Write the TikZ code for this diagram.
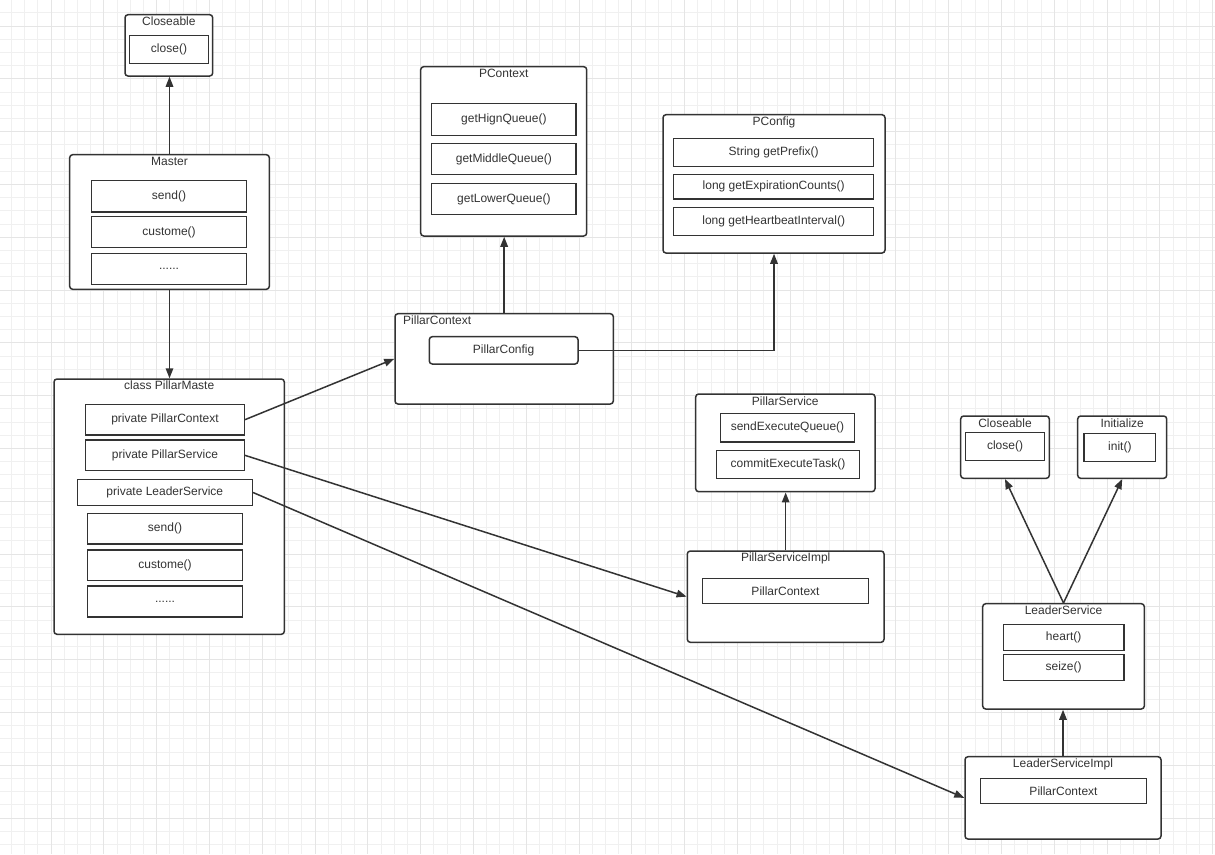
\documentclass[tikz,border=0pt]{standalone}
\usepackage{fontspec}
\setmainfont{Liberation Sans}
\usetikzlibrary{arrows.meta}
\definecolor{ink}{HTML}{333333}
\definecolor{gminor}{HTML}{F0F0F0}
\definecolor{gmajor}{HTML}{E5E5E5}
% \bx{style}{name}{x1}{y1}{x2}{y2}{text}
\newcommand{\bx}[7]{\node[#1, minimum width={(#5)-(#3)}, minimum height={(#6)-(#4)}] (#2) at ({((#3)+(#5))/2},{((#4)+(#6))/2}) {#7};}
\begin{document}
\begin{tikzpicture}[x=1pt,y=-1pt,
  font=\fontsize{12}{14}\selectfont, text=ink,
  outerbox/.style={draw=ink, line width=1.5pt, rounded corners=3pt, inner sep=0pt, fill=white},
  innerbox/.style={draw=ink, line width=1.5pt, inner sep=0pt, fill=white},
  roundbox/.style={draw=ink, line width=1.5pt, rounded corners=3pt, inner sep=0pt, fill=white},
  ttl/.style={inner sep=0pt, anchor=base},
  arr/.style={draw=ink, line width=1.5pt, -{Triangle[length=10pt,width=7.5pt]}},
  gridminor/.style={draw=gminor, line width=1pt},
  gridmajor/.style={draw=gmajor, line width=1pt}]
\useasboundingbox (0,0) rectangle (1215,854);
\fill[white] (0,0) rectangle (1215,854);
% grid
\foreach \k in {0,...,91} {
  \pgfmathsetmacro{\gx}{11.4+13.2*\k}
  \draw[gridminor] (\gx,0) -- (\gx,854);
}
\foreach \k in {0,...,64} {
  \pgfmathsetmacro{\gy}{12.8+13.2*\k}
  \draw[gridminor] (0,\gy) -- (1215,\gy);
}
\foreach \k in {0,...,22} {
  \pgfmathsetmacro{\gx}{51+52.8*\k}
  \draw[gridmajor] (\gx,0) -- (\gx,854);
}
\foreach \k in {0,...,16} {
  \pgfmathsetmacro{\gy}{26+52.8*\k}
  \draw[gridmajor] (0,\gy) -- (1215,\gy);
}

% Closeable (top)
\bx{outerbox}{cla}{125}{14.7}{212.7}{76}{}
\node[ttl] (clat) at (168.9,25.5) {Closeable};
\bx{innerbox}{claclose}{129.7}{35.7}{208.3}{63.3}{close()}

% Master
\bx{outerbox}{master}{69.7}{154.7}{269.3}{289.3}{}
\node[ttl] (mastert) at (169.5,165.5) {Master};
\bx{innerbox}{msend}{91.7}{180.7}{246.3}{212}{send()}
\bx{innerbox}{mcust}{91.7}{216.7}{246.3}{247.3}{custome()}
\bx{innerbox}{mdots}{91.7}{253.7}{246.3}{284.3}{......}

% class PillarMaste
\bx{outerbox}{pm}{54}{379}{284.3}{634.3}{}
\node[ttl] (pmt) at (169.2,389.8) {class PillarMaste};
\bx{innerbox}{ppc}{85.7}{404.3}{244.3}{435}{private PillarContext}
\bx{innerbox}{pps}{85.7}{440}{244.3}{470.7}{private PillarService}
\bx{innerbox}{pls}{77.3}{479.7}{252.3}{505.3}{private LeaderService}
\bx{innerbox}{pmsend}{87.7}{513.7}{242.3}{544}{send()}
\bx{innerbox}{pmcust}{87.7}{550}{242.3}{580.3}{custome()}
\bx{innerbox}{pmdots}{87.7}{586}{242.3}{617}{......}

% PContext
\bx{outerbox}{pcon}{420.7}{66.7}{586.7}{236}{}
\node[ttl] (pcont) at (503.7,77.3) {PContext};
\bx{innerbox}{qh}{431.7}{103.7}{576}{135.3}{getHignQueue()}
\bx{innerbox}{qm}{431.7}{143.7}{576}{174.7}{getMiddleQueue()}
\bx{innerbox}{ql}{431.7}{183.7}{576}{214.7}{getLowerQueue()}

% PConfig
\bx{outerbox}{pconfig}{663}{114.7}{885}{253}{}
\node[ttl] (pconfigt) at (774,125.5) {PConfig};
\bx{innerbox}{gp}{673.7}{138.7}{873.7}{166.3}{String getPrefix()}
\bx{innerbox}{ge}{673.7}{174.7}{873.7}{199}{long getExpirationCounts()}
\bx{innerbox}{gh}{673.7}{207.7}{873.7}{235.3}{long getHeartbeatInterval()}

% PillarContext
\bx{outerbox}{pctx}{395}{313.7}{613.3}{404}{}
\node[ttl, anchor=base west] (pctxt) at (403,324) {PillarContext};
\bx{roundbox}{pcfg}{429.3}{336.7}{578}{364}{PillarConfig}

% PillarService
\bx{outerbox}{ps}{695.7}{394}{875}{491.7}{}
\node[ttl] (pst) at (785.3,405) {PillarService};
\bx{innerbox}{seq}{720.7}{413.7}{854.3}{442}{sendExecuteQueue()}
\bx{innerbox}{cet}{716.7}{450.7}{859.3}{478.3}{commitExecuteTask()}

% PillarServiceImpl
\bx{outerbox}{psi}{687.3}{551}{884}{642.3}{}
\node[ttl] (psit) at (785.7,561.5) {PillarServiceImpl};
\bx{innerbox}{psictx}{702.3}{578.7}{868.7}{603.3}{PillarContext}

% Closeable (right)
\bx{outerbox}{clb}{960.7}{416}{1049.3}{478.3}{}
\node[ttl] (clbt) at (1005,427.3) {Closeable};
\bx{innerbox}{clbclose}{965.7}{432.3}{1044.3}{460.7}{close()}

% Initialize
\bx{outerbox}{ini}{1077.7}{416}{1166.7}{478.3}{}
\node[ttl] (init) at (1122.2,427.3) {Initialize};
\bx{innerbox}{inii}{1084}{433.3}{1155.7}{461.7}{init()}

% LeaderService
\bx{outerbox}{ls}{982.7}{603.7}{1144.3}{709}{}
\node[ttl] (lst) at (1063.5,614.3) {LeaderService};
\bx{innerbox}{heart}{1003.3}{624.3}{1124}{650.3}{heart()}
\bx{innerbox}{seize}{1003.3}{654.7}{1124}{680.3}{seize()}

% LeaderServiceImpl
\bx{outerbox}{lsi}{965}{756.7}{1161}{839}{}
\node[ttl] (lsit) at (1063,767.3) {LeaderServiceImpl};
\bx{innerbox}{lsictx}{980.3}{778.7}{1146.7}{803.3}{PillarContext}

% connectors
\draw[arr] (master.north) -- (master.north |- cla.south);
\draw[arr] (master.south) -- (master.south |- pm.north);
\draw[arr] (ppc.east) -- (pctx.west);
\draw[arr] (pctx.north) -- (pctx.north |- pcon.south);
\draw[arr] (pcfg.east) -| (pconfig.south);
\draw[arr] (pps.east) -- (psi.west);
\draw[arr] (psi.north) -- (psi.north |- ps.south);
\draw[arr] (pls.east) -- (lsi.west);
\draw[arr] (lsi.north) -- (lsi.north |- ls.south);
\draw[arr] (ls.north) -- (clb.south);
\draw[arr] (ls.north) -- (ini.south);
\end{tikzpicture}
\end{document}
